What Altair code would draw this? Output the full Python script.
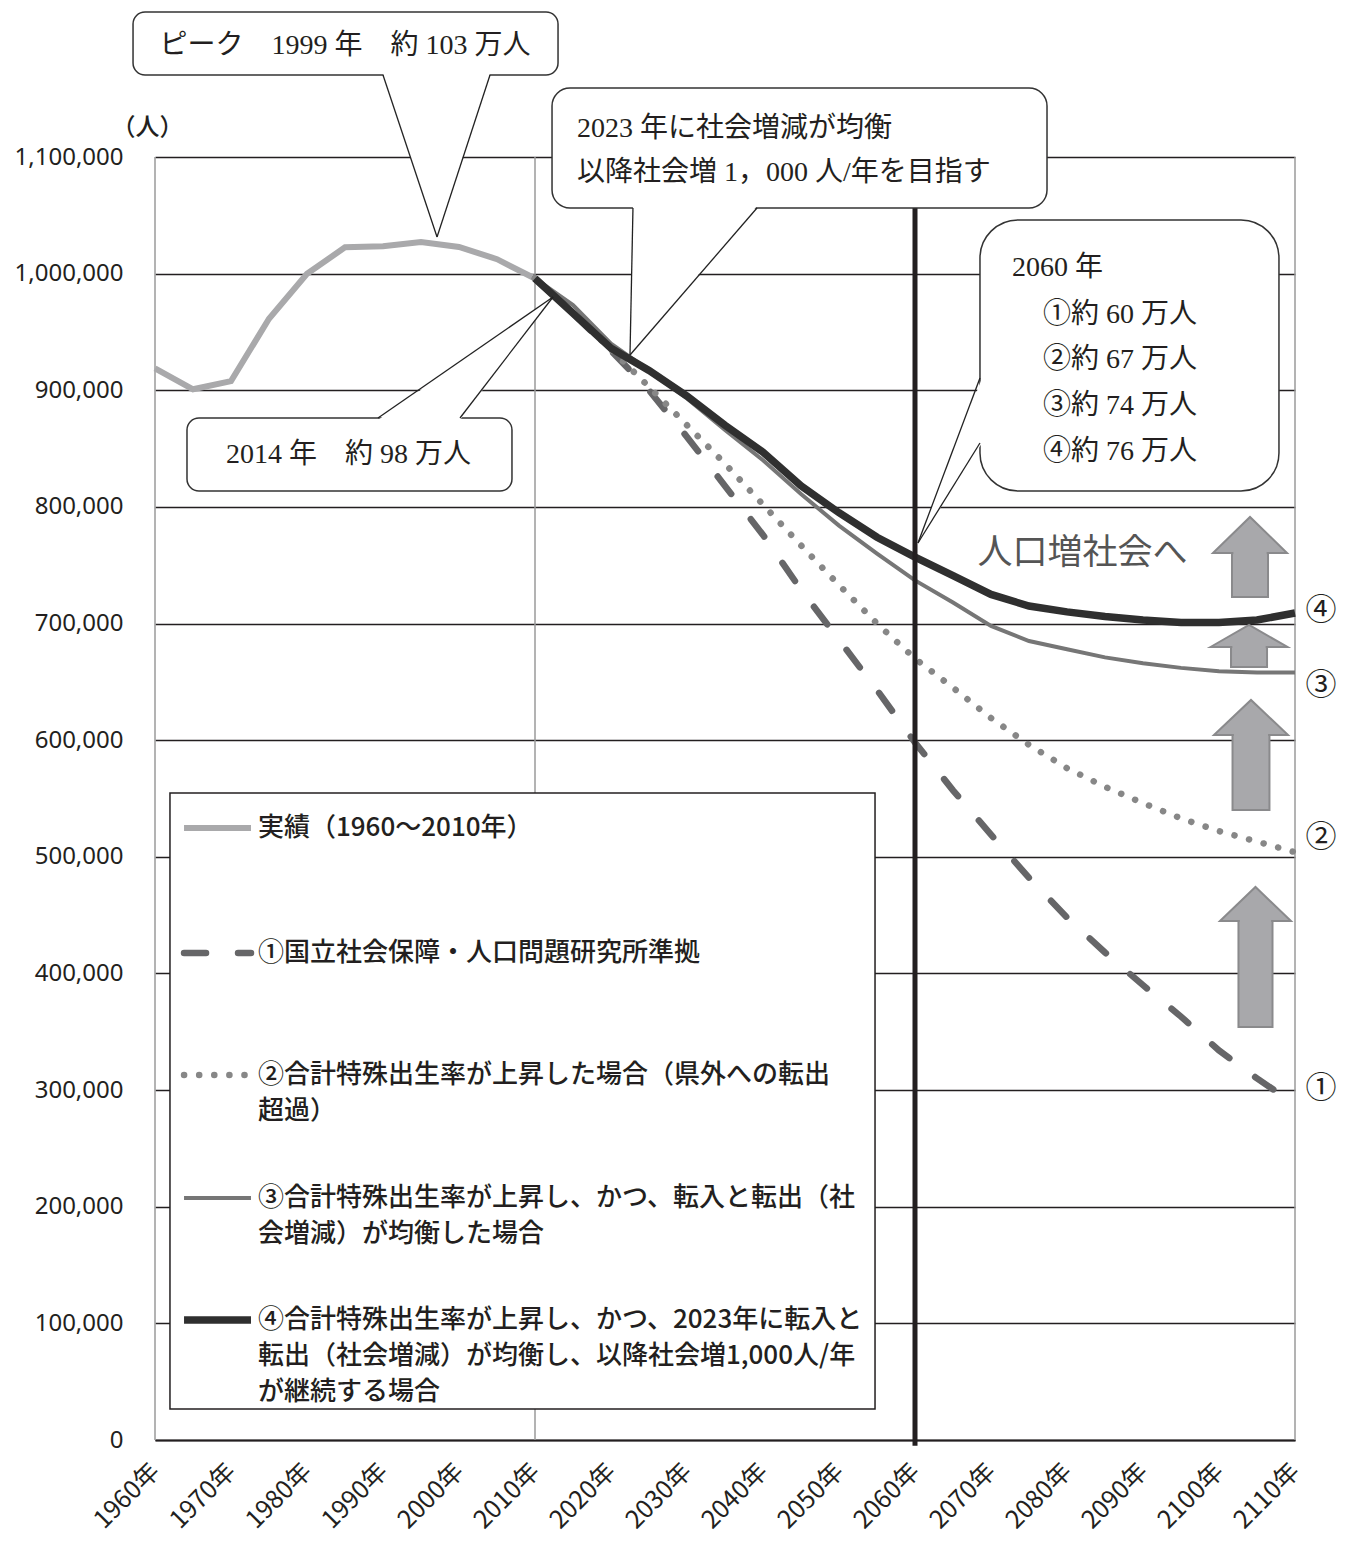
import altair as alt
import pandas as pd

# ---------------- data ----------------
years_actual = [1960, 1965, 1970, 1975, 1980, 1985, 1990, 1995, 2000, 2005, 2010]
pop_actual = [918867, 900845, 907897, 961292, 999864, 1022569, 1023412, 1027006, 1022890, 1012400, 995842]

years_proj = [2010, 2015, 2020, 2025, 2030, 2035, 2040, 2045, 2050, 2055, 2060,
              2065, 2070, 2075, 2080, 2085, 2090, 2095, 2100, 2105, 2110]
pop_s1 = [995842, 966000, 934000, 900000, 860000, 818000, 776000, 729000, 686000, 643000, 598000,
          557000, 519000, 482000, 448000, 418000, 390000, 363000, 334000, 310000, 288000]
pop_s2 = [995842, 966000, 935000, 903000, 870000, 837000, 802000, 767000, 733000, 700000, 670000,
          645000, 619000, 596000, 576000, 560000, 546000, 533000, 522000, 513000, 504000]
pop_s3 = [995842, 973000, 940000, 917000, 893000, 866000, 840000, 811000, 784000, 760000, 737000,
          718000, 698000, 685000, 678000, 671000, 666000, 662000, 659000, 658000, 658000]
pop_s4 = [995842, 966000, 936000, 917000, 895000, 870000, 847000, 818000, 795000, 774000, 757000,
          741000, 725000, 715000, 710000, 706000, 703000, 701000, 701000, 703000, 709000]

x_ticks = [1960, 1970, 1980, 1990, 2000, 2010, 2020, 2030, 2040, 2050, 2060, 2070, 2080, 2090, 2100, 2110]
y_ticks = [0, 100000, 200000, 300000, 400000, 500000, 600000, 700000, 800000, 900000, 1000000, 1100000]
vline_years = [1960, 2010, 2110]
marker_year = [2060]

legend_texts = [
    ["実績（1960～2010年）"],
    ["①国立社会保障・人口問題研究所準拠"],
    ["②合計特殊出生率が上昇した場合（県外への転出", "超過）"],
    ["③合計特殊出生率が上昇し、かつ、転入と転出（社", "会増減）が均衡した場合"],
    ["④合計特殊出生率が上昇し、かつ、2023年に転入と", "転出（社会増減）が均衡し、以降社会増1,000人/年", "が継続する場合"],
]
end_labels = ["④", "③", "②", "①"]

peak_text = ["ピーク　1999 年　約 103 万人"]
now_text = ["2014 年　約 98 万人"]
goal_text = ["2023 年に社会増減が均衡", "以降社会増 1，000 人/年を目指す"]
y2060_head = ["2060 年"]
y2060_text = ["①約 60 万人", "②約 67 万人", "③約 74 万人", "④約 76 万人"]
growth_text = ["人口増社会へ"]

# ---------------- annotation geometry (data units: year, persons) ----------------
legend_box = dict(x=1961.97, x2=2054.74, y=26578, y2=554716)
legend_sym_x = (1963.82, 1972.63)
legend_text_x = 1973.55
legend_line_y = [[524708], [417537], [312939, 282075], [207483, 176617], [102884, 72019, 41154]]

boxes = [  # x, x2, y, y2, corner radius
    dict(x=1957.11, x2=2013.03, y=1170305, y2=1224319, r=12),
    dict(x=2012.24, x2=2077.37, y=1056275, y2=1159159, r=18),
    dict(x=1964.21, x2=2006.97, y=813640, y2=876228, r=12),
    dict(x=2068.55, x2=2107.89, y=813640, y2=1045987, r=38),
]
# tails whose roots sit on a horizontal box edge: (root y, root x1, root x2, tip x, tip y, inset y)
tails_h = [
    (1170305, 1990.00, 2004.08, 1997.11, 1031411, 1172020),
    (1056275, 2022.89, 2039.21, 2022.50, 930242, 1057990),
    (876228, 1989.34, 2000.13, 2012.37, 979969, 874513),
]
# tail whose roots sit on a vertical box edge: (root x, root y1, root y2, tip x, tip y, inset x)
tails_v = [
    (2068.55, 910522, 854794, 2060.39, 769057, 2068.82),
]
arrows = [  # centre year, head half width, shaft half width, tip, head base, shaft bottom
    (2104.08, 4.87, 2.37, 791349, 760484, 722760),
    (2103.95, 5.07, 2.37, 698753, 679891, 662744),
    (2104.21, 4.87, 2.43, 634451, 604443, 540141),
    (2104.80, 4.67, 2.24, 474123, 444973, 354092),
]
text_pos = {
    "peak": (1985.0, [1195168]),
    "now": (1985.46, [844506]),
    "goal": (2015.53, [1124007, 1086283]),
    "head": (2072.76, [1004833]),
    "y2060": (2076.84, [964537, 925955, 886517, 847078]),
    "growth": (2082.04, [760484]),
    "ends": (2113.42, [710756, 646454, 516134, 300935]),
}

# ---------------- styles ----------------
styles = {
    "actual": dict(color="#a9a9ab", strokeWidth=6),
    "s1": dict(color="#666668", strokeWidth=6.5, strokeDash=[22, 32], strokeCap="round"),
    "s2": dict(color="#878787", strokeWidth=6.5, strokeDash=[0.1, 15], strokeCap="round"),
    "s3": dict(color="#767676", strokeWidth=4),
    "s4": dict(color="#2f2f2f", strokeWidth=7.5),
}
SANS = "Noto Sans CJK JP"
SERIF = "Liberation Serif, Noto Sans CJK JP"
INK = "#231f20"
ARROW_FILL = "#a8a8ab"
ARROW_EDGE = "#8a8a8c"

xs = alt.Scale(domain=[1960, 2110], nice=False, zero=False)
ys = alt.Scale(domain=[0, 1100000], nice=False, zero=False)

x_axis = alt.Axis(values=x_ticks, labelExpr="datum.value + '年'", grid=False, domain=True,
                  domainColor=INK, domainWidth=2, ticks=False, labelAngle=-45, labelAlign="right",
                  labelBaseline="middle", labelPadding=27, labelFont=SANS, labelFontSize=25,
                  labelColor=INK, labelFlush=False, labelOverlap=False, title=None)
y_axis = alt.Axis(values=y_ticks, labelExpr="format(datum.value, ',')", grid=True, gridColor=INK,
                  gridWidth=1.6, domain=False, ticks=False, labelPadding=32, labelFont="Noto Sans",
                  labelFontSize=24, labelColor=INK, labelOverlap=False, labelFlush=False,
                  title="（人）", titleAngle=0, titleX=-8, titleY=-30, titleAlign="center",
                  titleBaseline="middle", titleFont=SANS, titleFontSize=24,
                  titleFontWeight=500, titleColor=INK)


def X(f="x"):
    return alt.X(f"{f}:Q", scale=xs, axis=x_axis)


def Y(f="y"):
    return alt.Y(f"{f}:Q", scale=ys, axis=y_axis)


layers = []

# vertical reference lines (plot borders and 2010)
layers.append(alt.Chart(pd.DataFrame({"x": vline_years}))
              .mark_rule(color="#9a9a9a", strokeWidth=1.5).encode(x=X("x")))

# population series
layers.append(alt.Chart(pd.DataFrame({"x": years_actual, "y": pop_actual}))
              .mark_line(**styles["actual"]).encode(x=X("x"), y=Y("y")))
for key, vals in [("s1", pop_s1), ("s2", pop_s2), ("s3", pop_s3), ("s4", pop_s4)]:
    layers.append(alt.Chart(pd.DataFrame({"x": years_proj, "y": vals}))
                  .mark_line(**styles[key]).encode(x=X("x"), y=Y("y")))

# 2060 marker line
layers.append(alt.Chart(pd.DataFrame({"x": marker_year, "y": [-5000], "y2": [1100000]}))
              .mark_rule(color=INK, strokeWidth=5)
              .encode(x=X("x"), y=Y("y"), y2=alt.Y2("y2:Q")))

# ---------------- legend ----------------
layers.append(alt.Chart(pd.DataFrame([legend_box]))
              .mark_rect(fill="white", stroke=INK, strokeWidth=1.5)
              .encode(x=X("x"), x2=alt.X2("x2:Q"), y=Y("y"), y2=alt.Y2("y2:Q")))
for key, ys_row in zip(["actual", "s1", "s2", "s3", "s4"], legend_line_y):
    layers.append(alt.Chart(pd.DataFrame({"x": [legend_sym_x[0]], "x2": [legend_sym_x[1]], "y": [ys_row[0]]}))
                  .mark_rule(**styles[key]).encode(x=X("x"), x2=alt.X2("x2:Q"), y=Y("y")))
leg_rows = []
for lines, ys_row in zip(legend_texts, legend_line_y):
    for t, yv in zip(lines, ys_row):
        leg_rows.append({"x": legend_text_x, "y": yv, "t": t})
layers.append(alt.Chart(pd.DataFrame(leg_rows))
              .mark_text(align="left", baseline="middle", font=SANS, fontSize=26, fontWeight=500, color=INK)
              .encode(x=X("x"), y=Y("y"), text="t:N"))

# ---------------- block arrows: shaft rect + head triangle + junction cover ----------------
shafts, heads, covers = [], [], []
for i, (cx, hh, sh, tip, base, bot) in enumerate(arrows):
    shafts.append({"x": cx - sh, "x2": cx + sh, "y": bot, "y2": base})
    heads += [{"id": i, "x": cx - hh, "y": base, "y2": base},
              {"id": i, "x": cx, "y": tip, "y2": base},
              {"id": i, "x": cx + hh, "y": base, "y2": base}]
    covers.append({"x": cx - sh + 0.18, "x2": cx + sh - 0.18, "y": base - 1700, "y2": base + 1700})
layers.append(alt.Chart(pd.DataFrame(shafts))
              .mark_rect(fill=ARROW_FILL, stroke=ARROW_EDGE, strokeWidth=2)
              .encode(x=X("x"), x2=alt.X2("x2:Q"), y=Y("y"), y2=alt.Y2("y2:Q")))
layers.append(alt.Chart(pd.DataFrame(heads))
              .mark_area(fill=ARROW_FILL, stroke=ARROW_EDGE, strokeWidth=2, opacity=1, orient="vertical")
              .encode(x=X("x"), y=Y("y"), y2=alt.Y2("y2:Q"), detail="id:N"))
layers.append(alt.Chart(pd.DataFrame(covers))
              .mark_rect(fill=ARROW_FILL)
              .encode(x=X("x"), x2=alt.X2("x2:Q"), y=Y("y"), y2=alt.Y2("y2:Q")))

# ---------------- callouts ----------------
for b in boxes:
    layers.append(alt.Chart(pd.DataFrame([{k: b[k] for k in ("x", "x2", "y", "y2")}]))
                  .mark_rect(fill="white", stroke="#333333", strokeWidth=1.5, cornerRadius=b["r"])
                  .encode(x=X("x"), x2=alt.X2("x2:Q"), y=Y("y"), y2=alt.Y2("y2:Q")))

th_rows, leg_segs = [], []
for i, (ry, rx1, rx2, tx, ty, iy) in enumerate(tails_h):
    th_rows += [{"id": i, "y": iy, "x": rx1, "x2": rx2}, {"id": i, "y": ty, "x": tx, "x2": tx}]
    leg_segs += [{"x": rx1, "y": ry, "x2": tx, "y2": ty}, {"x": rx2, "y": ry, "x2": tx, "y2": ty}]
layers.append(alt.Chart(pd.DataFrame(th_rows))
              .mark_area(fill="white", opacity=1, orient="horizontal")
              .encode(y=Y("y"), x=X("x"), x2=alt.X2("x2:Q"), detail="id:N"))
tv_rows = []
for i, (rx, ry1, ry2, tx, ty, ix) in enumerate(tails_v):
    tv_rows += [{"id": i, "x": tx, "y": ty, "y2": ty}, {"id": i, "x": ix, "y": ry1, "y2": ry2}]
    leg_segs += [{"x": rx, "y": ry1, "x2": tx, "y2": ty}, {"x": rx, "y": ry2, "x2": tx, "y2": ty}]
layers.append(alt.Chart(pd.DataFrame(tv_rows))
              .mark_area(fill="white", opacity=1, orient="vertical")
              .encode(x=X("x"), y=Y("y"), y2=alt.Y2("y2:Q"), detail="id:N"))
layers.append(alt.Chart(pd.DataFrame(leg_segs))
              .mark_rule(color="#222222", strokeWidth=1.3)
              .encode(x=X("x"), y=Y("y"), x2=alt.X2("x2:Q"), y2=alt.Y2("y2:Q")))


def text_layer(texts, key, align, font, size, color=INK):
    xv, yvals = text_pos[key]
    df = pd.DataFrame({"x": [xv] * len(texts), "y": yvals, "t": texts})
    return (alt.Chart(df).mark_text(align=align, baseline="middle", font=font, fontSize=size, color=color)
            .encode(x=X("x"), y=Y("y"), text="t:N"))


layers.append(text_layer(peak_text, "peak", "center", SERIF, 28))
layers.append(text_layer(now_text, "now", "center", SERIF, 28))
layers.append(text_layer(goal_text, "goal", "left", SERIF, 28))
layers.append(text_layer(y2060_head, "head", "left", SERIF, 28))
layers.append(text_layer(y2060_text, "y2060", "left", SERIF, 28))
layers.append(text_layer(growth_text, "growth", "center", SANS, 35, "#555555"))
layers.append(text_layer(end_labels, "ends", "center", SERIF, 31))

chart = (alt.layer(*layers)
         .properties(width=1140, height=1283, background="white",
                     autosize=alt.AutoSizeParams(type="none"),
                     padding={"left": 147, "top": 149, "right": 49, "bottom": 94})
         .configure_view(stroke=None))

chart.save("out.html", embed_options={"renderer": "svg", "actions": False})
